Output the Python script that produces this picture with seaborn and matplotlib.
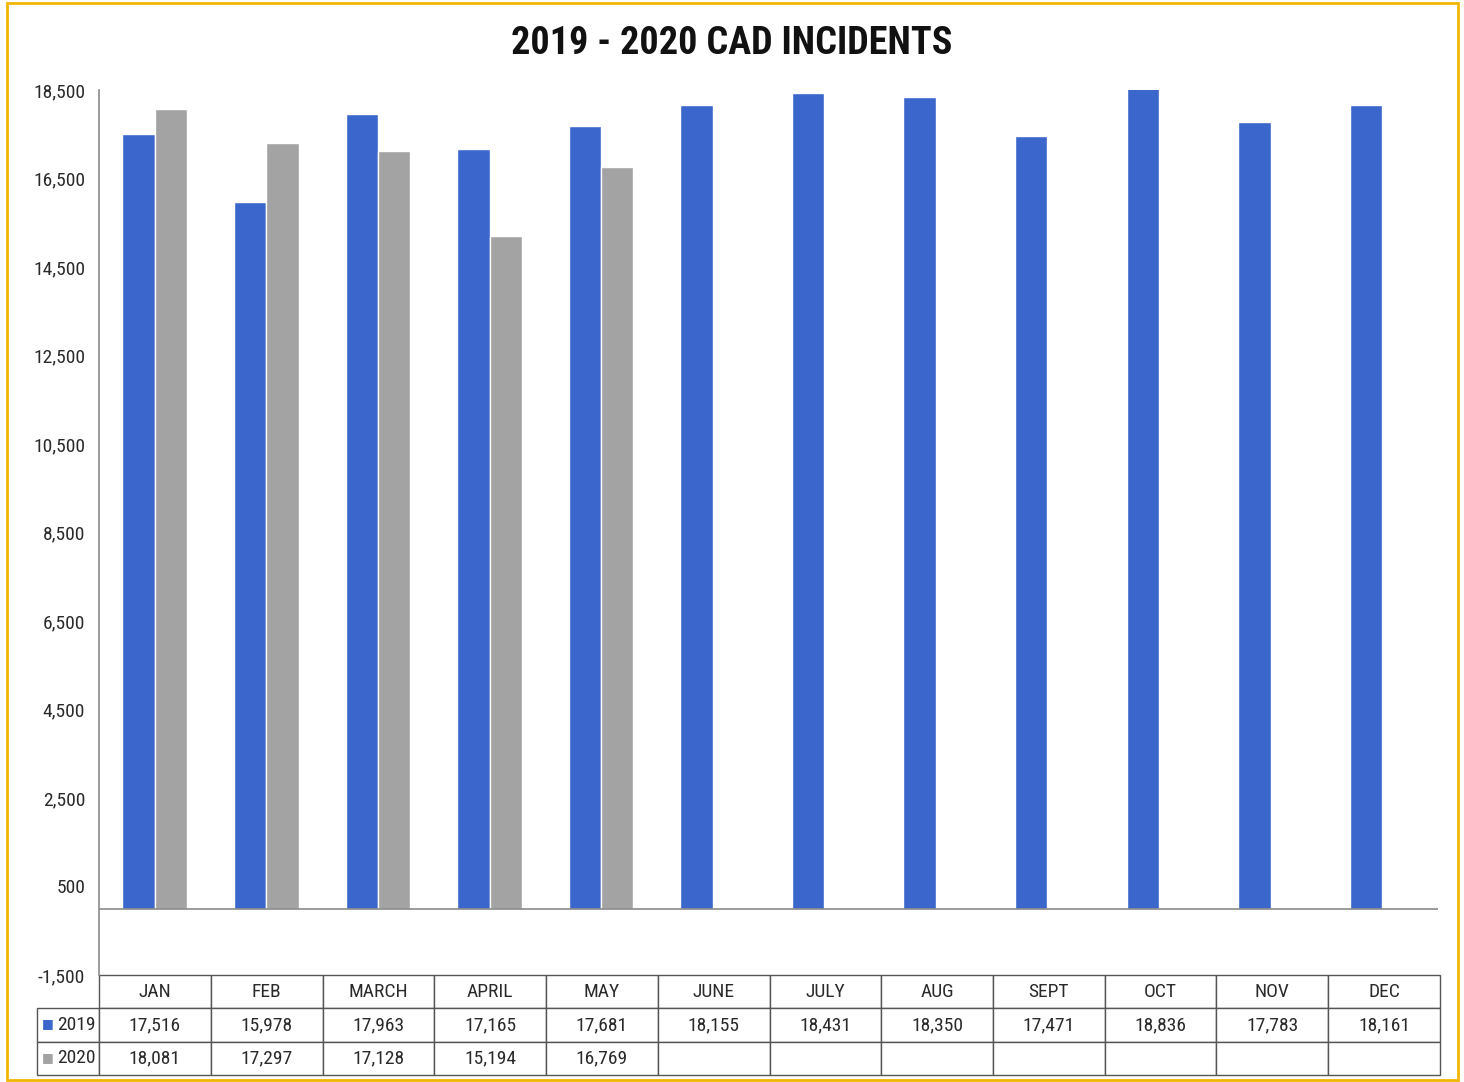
import numpy as np
import pandas as pd
import matplotlib
matplotlib.use("Agg")
import matplotlib.pyplot as plt
from matplotlib import font_manager
from matplotlib.patches import Rectangle
import seaborn as sns

# data
months = ["JAN", "FEB", "MARCH", "APRIL", "MAY", "JUNE", "JULY", "AUG", "SEPT", "OCT", "NOV", "DEC"]
incidents_2019 = [17516, 15978, 17963, 17165, 17681, 18155, 18431, 18350, 17471, 18836, 17783, 18161]
incidents_2020 = [18081, 17297, 17128, 15194, 16769]
years = ["2019", "2020"]
yticks = [-1500, 500, 2500, 4500, 6500, 8500, 10500, 12500, 14500, 16500, 18500]

blue = "#3B67CC"
gray = "#A3A3A3"

df = pd.concat([
    pd.DataFrame({"month": months, "value": incidents_2019, "year": "2019"}),
    pd.DataFrame({"month": months[:len(incidents_2020)], "value": incidents_2020, "year": "2020"}),
])

# look for a narrow font, the original uses a condensed one
installed = {f.name for f in font_manager.fontManager.ttflist}
narrow = None
for n in ["Liberation Sans Narrow", "Arial Narrow", "Roboto Condensed", "Open Sans Condensed", "DejaVu Sans Condensed"]:
    if n in installed:
        narrow = n
        break

sns.set_theme(style="white")
if narrow:
    plt.rcParams["font.family"] = [narrow, "DejaVu Sans"]
    tick_fs, title_fs = 14, 27.5
else:
    plt.rcParams["font.family"] = ["Liberation Sans", "DejaVu Sans"]
    tick_fs, title_fs = 12.5, 23.5

fig = plt.figure(figsize=(14.64, 10.82), dpi=100)
ax = fig.add_axes([0.0676, 0.0989, 0.9146, 0.8179])

sns.barplot(data=df, x="month", y="value", hue="year", order=months, hue_order=years,
            palette=[blue, gray], width=0.58, saturation=1, ax=ax, legend=False)

ax.set_ylim(-1500, 18500)
ax.set_xlim(-0.5, len(months) - 0.5)
ax.set_yticks(yticks)
ax.set_yticklabels([f"{t:,}" for t in yticks], fontsize=tick_fs, color="#2a2a2a")
ax.tick_params(axis="y", length=0, pad=10)
ax.set_xticks([])
ax.set_xlabel("")
ax.set_ylabel("")
for s in ["top", "right", "bottom"]:
    ax.spines[s].set_visible(False)
ax.spines["left"].set_color("#8a8a8a")
ax.spines["left"].set_linewidth(1.2)
ax.axhline(0, color="#8a8a8a", lw=1.2)

# data table under the chart
cell_text = [["2019"] + [f"{v:,}" for v in incidents_2019],
             ["2020"] + [f"{v:,}" for v in incidents_2020] + [""] * (len(months) - len(incidents_2020))]
lab_w = 62 / 1339
col_w = 1 / 12
tbl = ax.table(cellText=cell_text, colLabels=[""] + months,
               colWidths=[lab_w] + [col_w] * 12, cellLoc="center",
               bbox=[-lab_w, -0.113, 1 + lab_w + 0.0015, 0.113])
tbl.auto_set_font_size(False)
tbl.set_fontsize(tick_fs)
for (r, c), cell in tbl.get_celld().items():
    cell.set_edgecolor("#555555")
    cell.set_linewidth(1.0)
    cell.get_text().set_color("#2a2a2a")
    if r == 0 and c == 0:
        cell.visible_edges = ""
    if c == 0 and r > 0:
        cell.get_text().set_ha("right")
        cell._loc = "right"
        cell.PAD = 0.06

# legend keys in the row labels
ax.text(-0.0385, -0.0554, "■", color=blue, fontsize=9, ha="center", va="center",
        transform=ax.transAxes, family="DejaVu Sans", clip_on=False)
ax.text(-0.0385, -0.0938, "■", color=gray, fontsize=9, ha="center", va="center",
        transform=ax.transAxes, family="DejaVu Sans", clip_on=False)

fig.text(0.5, 0.960, "2019 - 2020 CAD INCIDENTS", ha="center", va="center",
         fontsize=title_fs, fontweight="bold", color="#111111")

fig.patches.append(Rectangle((0.0048, 0.002), 0.991, 0.995, transform=fig.transFigure,
                             fill=False, edgecolor="#F2B705", lw=2))

fig.savefig("out.png", dpi=100)
